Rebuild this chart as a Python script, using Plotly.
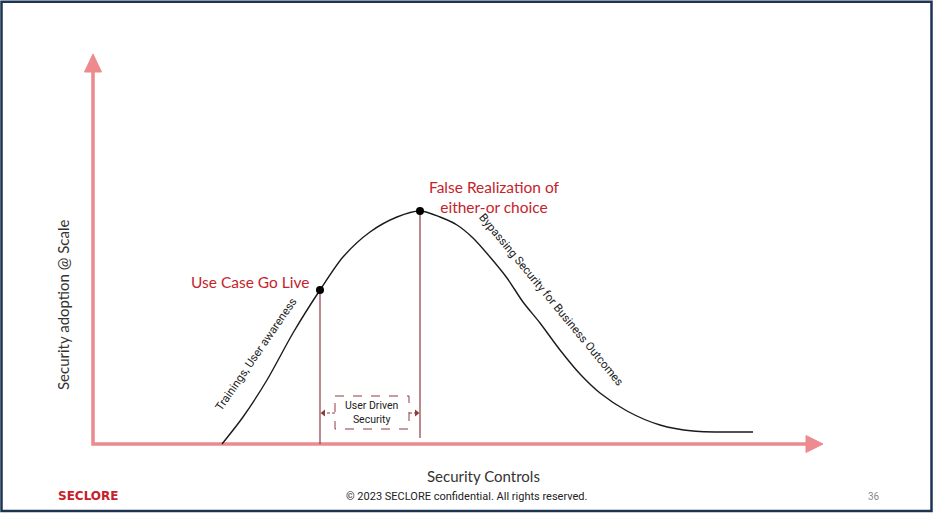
import plotly.graph_objects as go

# ---- data (pixel-like diagram coordinates) ----
curve_x = [222, 243, 267, 293, 320, 343, 370, 397, 420, 440, 457, 473, 490, 507, 523, 540, 560, 580, 600, 627, 660, 693, 753]
curve_y = [444, 417, 380, 333, 290, 257, 232, 217, 211, 217, 225, 238, 257, 278, 302, 323, 350, 374, 393, 411, 425, 431, 432]

milestone_x = [320, 420]
milestone_y = [290, 211]
milestone_labels = ["Use Case Go Live", "False Realization of<br>either-or choice"]

origin = (93, 444)
y_axis_top = 54
x_axis_end = 823

x_title = "Security Controls"
y_title = "Security adoption @ Scale"
phase_labels = ["Trainings, User awareness", "Bypassing Security for Business Outcomes"]
box_label = "User Driven<br>Security"
footer_text = "© 2023 SECLORE confidential. All rights reserved."
page_number = "36"
logo_text = "SECLORE"

AXIS_C = "#ec8a8e"
RED = "#c3242b"
MAROON = "#8e3b40"
TEXT = "#333333"

fig = go.Figure()

# axis lines
fig.add_trace(go.Scatter(x=[origin[0], origin[0], x_axis_end - 14],
                         y=[y_axis_top + 14, origin[1], origin[1]],
                         mode="lines", line=dict(color=AXIS_C, width=3.5),
                         hoverinfo="skip"))
# arrow heads
fig.add_trace(go.Scatter(x=[origin[0], origin[0] - 8.5, origin[0] + 8.5, origin[0]],
                         y=[y_axis_top, y_axis_top + 18, y_axis_top + 18, y_axis_top],
                         mode="lines", fill="toself", fillcolor=AXIS_C,
                         line=dict(color=AXIS_C, width=1), hoverinfo="skip"))
fig.add_trace(go.Scatter(x=[x_axis_end, x_axis_end - 17, x_axis_end - 17, x_axis_end],
                         y=[origin[1], origin[1] - 8.5, origin[1] + 8.5, origin[1]],
                         mode="lines", fill="toself", fillcolor=AXIS_C,
                         line=dict(color=AXIS_C, width=1), hoverinfo="skip"))

# vertical guide lines
fig.add_trace(go.Scatter(x=[milestone_x[0], milestone_x[0]], y=[milestone_y[0], origin[1]],
                         mode="lines", line=dict(color=MAROON, width=1.2), hoverinfo="skip"))
fig.add_trace(go.Scatter(x=[milestone_x[1], milestone_x[1]], y=[milestone_y[1], origin[1] - 6],
                         mode="lines", line=dict(color=MAROON, width=1.2), hoverinfo="skip"))

# adoption curve
fig.add_trace(go.Scatter(x=curve_x, y=curve_y, mode="lines", line_shape="spline",
                         line=dict(color="#1a1a1a", width=1.4, smoothing=0.8), hoverinfo="skip"))
# milestones
fig.add_trace(go.Scatter(x=milestone_x, y=milestone_y, mode="markers",
                         marker=dict(color="black", size=8), hoverinfo="skip"))

# dashed box + arrows
box = (335, 396, 409, 429)
fig.add_shape(type="rect", x0=box[0], y0=box[1], x1=box[2], y1=box[3],
              line=dict(color=MAROON, width=1, dash="dash"), xref="x", yref="y")
arr_y = 413
fig.add_trace(go.Scatter(x=[box[0], milestone_x[0] + 3], y=[arr_y, arr_y], mode="lines",
                         line=dict(color=MAROON, width=1, dash="3px,2px"), hoverinfo="skip"))
fig.add_trace(go.Scatter(x=[box[2], milestone_x[1] - 3], y=[arr_y, arr_y], mode="lines",
                         line=dict(color=MAROON, width=1, dash="3px,2px"), hoverinfo="skip"))
fig.add_trace(go.Scatter(x=[milestone_x[0] + 3.5, milestone_x[1] - 3.5], y=[arr_y, arr_y], mode="markers",
                         marker=dict(symbol=["triangle-left", "triangle-right"], size=6, color=MAROON),
                         hoverinfo="skip"))

# frame
fig.add_shape(type="rect", x0=1.5, y0=1.8, x1=931.5, y1=511, xref="x", yref="y",
              line=dict(color="#1d3452", width=2.5))

ann = []
ann.append(dict(x=311, y=282, text=milestone_labels[0], xanchor="right", yanchor="middle",
                font=dict(family="Lato, Open Sans, sans-serif", size=15.5, color=RED)))
ann.append(dict(x=494, y=197, text=milestone_labels[1], xanchor="center", yanchor="middle",
                font=dict(family="Lato, Open Sans, sans-serif", size=15.5, color=RED)))
ann.append(dict(x=256, y=354, text=phase_labels[0], textangle=-55.5, xanchor="center", yanchor="middle",
                font=dict(family="Roboto, sans-serif", size=11.5, color="#222")))
ann.append(dict(x=551, y=299, text=phase_labels[1], textangle=50.5, xanchor="center", yanchor="middle",
                font=dict(family="Roboto, sans-serif", size=11.5, color="#222")))
ann.append(dict(x=372, y=412, text=box_label, xanchor="center", yanchor="middle",
                font=dict(family="Roboto, sans-serif", size=10.5, color="#222")))
ann.append(dict(x=483, y=476, text=x_title, xanchor="center", yanchor="middle",
                font=dict(family="Lato, Open Sans, sans-serif", size=15, color=TEXT)))
ann.append(dict(x=63, y=305, text=y_title, textangle=-90, xanchor="center", yanchor="middle",
                font=dict(family="Lato, Open Sans, sans-serif", size=15, color=TEXT)))
ann.append(dict(x=467, y=496, text=footer_text, xanchor="center", yanchor="middle",
                font=dict(family="Liberation Sans Narrow, Roboto, sans-serif", size=11, color="#222")))
ann.append(dict(x=874, y=496, text=page_number, xanchor="center", yanchor="middle",
                font=dict(family="Roboto, sans-serif", size=10, color="#8a8a8a")))
ann.append(dict(x=88, y=496, text="<b>" + logo_text + "</b>", xanchor="center", yanchor="middle",
                font=dict(family="DejaVu Sans, sans-serif", size=12, color="#c8202a")))
for a in ann:
    a.update(xref="x", yref="y", showarrow=False)

fig.update_layout(
    width=934, height=513, margin=dict(l=0, r=0, t=0, b=0),
    paper_bgcolor="white", plot_bgcolor="white", showlegend=False,
    annotations=ann,
    xaxis=dict(range=[0, 934], visible=False, fixedrange=True),
    yaxis=dict(range=[513, 0], visible=False, fixedrange=True),
)

fig.write_html("out.html", config={"displayModeBar": False},
               post_script="document.body.style.margin='0';document.body.style.overflow='hidden';")
